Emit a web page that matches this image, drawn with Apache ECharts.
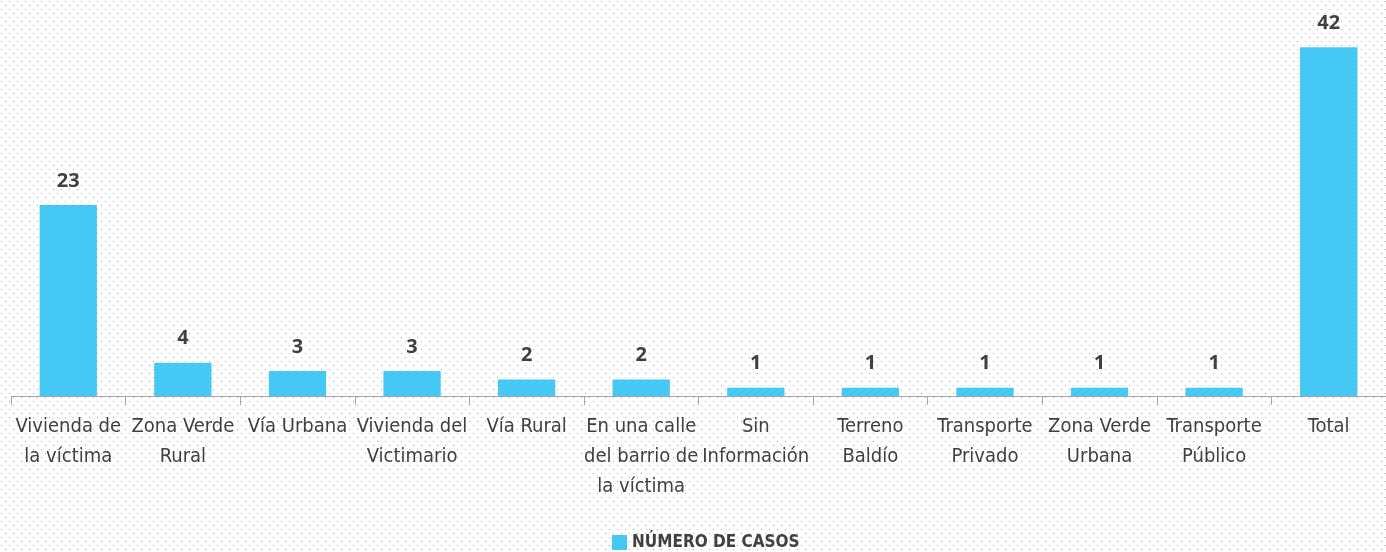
<!DOCTYPE html>
<html lang="es">
<head>
    <meta charset="UTF-8">
    <title>Lugar de los hechos</title>
    <script type="text/javascript" src="https://cdn.jsdelivr.net/npm/echarts@6/dist/echarts.min.js"></script>
    <style>
        html, body { margin: 0; padding: 0; background: #fff; }
    </style>
</head>
<body>
<div id="container" style="width: 1386px; height: 552px"></div>
<script type="text/javascript">
    // categorias (con saltos de linea como en la imagen)
    var categorias = [
        'Vivienda de\nla víctima',
        'Zona Verde\nRural',
        'Vía Urbana',
        'Vivienda del\nVictimario',
        'Vía Rural',
        'En una calle\ndel barrio de\nla víctima',
        'Sin\nInformación',
        'Terreno\nBaldío',
        'Transporte\nPrivado',
        'Zona Verde\nUrbana',
        'Transporte\nPúblico',
        'Total'
    ];
    var casos = [23, 4, 3, 3, 2, 2, 1, 1, 1, 1, 1, 42];
    var serieNombre = 'NÚMERO DE CASOS';

    var fuenteAngosta = '"Liberation Sans Narrow", "DejaVu Sans Condensed", sans-serif';

    // fondo punteado (patron tipo excel)
    var tile = document.createElement('canvas');
    tile.width = 8;
    tile.height = 8;
    var ctx = tile.getContext('2d');
    ctx.fillStyle = '#ffffff';
    ctx.fillRect(0, 0, 8, 8);
    ctx.fillStyle = '#a8a8a8';
    ctx.fillRect(1, 1, 1, 1);
    ctx.fillRect(5, 5, 1, 1);

    var myChart = echarts.init(document.getElementById('container'));
    var option = {
        backgroundColor: { image: tile, repeat: 'repeat' },
        animation: false,
        grid: { left: 11, right: -1, top: 14, bottom: 156, containLabel: false },
        legend: {
            data: [serieNombre],
            left: 607,
            top: 529,
            itemWidth: 15,
            itemHeight: 15,
            itemGap: 5,
            icon: 'rect',
            textStyle: {
                color: '#404040',
                fontFamily: fuenteAngosta,
                fontWeight: 'bold',
                fontSize: 17
            }
        },
        xAxis: {
            type: 'category',
            data: categorias,
            axisLine: { lineStyle: { color: '#a6a6a6', width: 1 } },
            axisTick: { show: true, length: 9, lineStyle: { color: '#a6a6a6' } },
            axisLabel: {
                interval: 0,
                margin: 16,
                color: '#404040',
                fontFamily: fuenteAngosta,
                fontSize: 20,
                lineHeight: 30
            }
        },
        yAxis: {
            type: 'value',
            min: 0,
            max: 46,
            show: false,
            splitLine: { show: false }
        },
        series: [{
            name: serieNombre,
            type: 'bar',
            data: casos,
            barWidth: '50%',
            itemStyle: { color: '#45C8F4' },
            label: {
                show: true,
                position: 'top',
                distance: 14,
                color: '#404040',
                fontFamily: '"Noto Sans", sans-serif',
                fontWeight: 'bold',
                fontSize: 20
            }
        }]
    };
    myChart.setOption(option, true);
</script>
</body>
</html>
